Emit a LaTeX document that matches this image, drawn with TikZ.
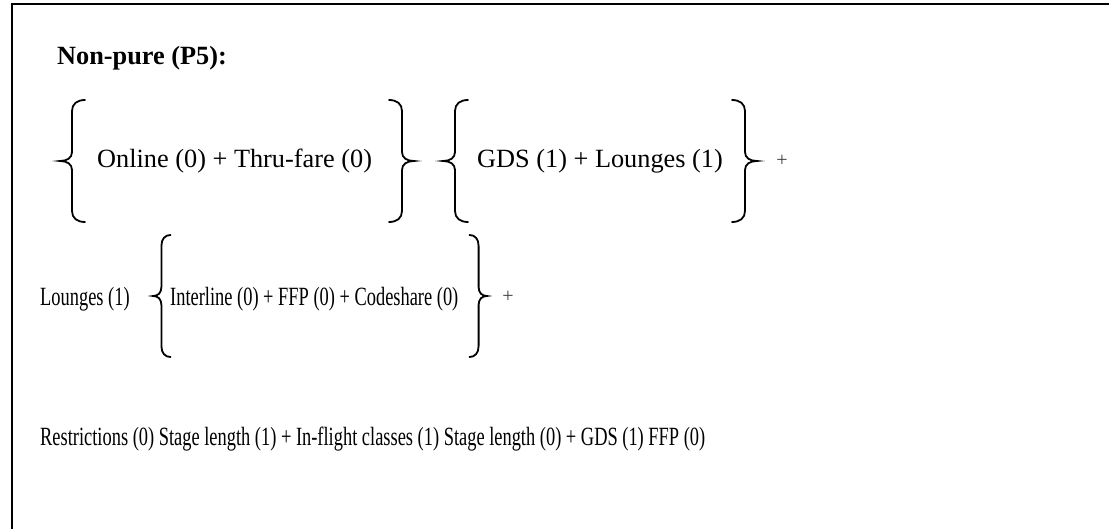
\documentclass[tikz,border=0pt]{standalone}
\usepackage{fontspec}
\setmainfont{Liberation Serif}
\newfontfamily\condfont[FakeStretch=0.7]{Liberation Serif}
\tikzset{
  bracestyle/.style={line width=1.8pt, line cap=round},
  lbrace/.pic={\draw[bracestyle] (25,-61) .. controls (17,-61) and (12,-57) .. (12,-50) -- (12,-9) .. controls (12,-3) and (7,0) .. (0,0) .. controls (7,0) and (12,3) .. (12,9) -- (12,50) .. controls (12,57) and (17,61) .. (25,61);},
  rbrace/.pic={\draw[bracestyle] (-25,-61) .. controls (-17,-61) and (-12,-57) .. (-12,-50) -- (-12,-9) .. controls (-12,-3) and (-7,0) .. (0,0) .. controls (-7,0) and (-12,3) .. (-12,9) -- (-12,50) .. controls (-12,57) and (-17,61) .. (-25,61);},
  txt/.style={anchor=base west, inner sep=0pt, font=\fontsize{26.3}{30}\selectfont},
  ctxt/.style={anchor=base west, inner sep=0pt, font=\fontsize{26.3}{30}\condfont},
  plus/.style={inner sep=0pt, text=black!75, font=\fontsize{20}{22}\selectfont}
}
\begin{document}
\begin{tikzpicture}[x=1pt,y=-1pt]
\useasboundingbox (0,0) rectangle (1109,529);
\clip (0,0) rectangle (1109,529);
\fill[white] (0,0) rectangle (1109,529);
% frame
\draw[line width=2pt] (12,540) -- (12,4) -- (1120,4);
% title
\node[txt, font=\fontsize{26.3}{30}\selectfont\bfseries] (title) at (57,65) {Non-pure (P5):};
% row 1
\pic at (60,161) {lbrace};
\node[txt] (online) at (97,168) {Online (0) + Thru-fare (0)};
\pic at (414,161) {rbrace};
\pic at (443,161) {lbrace};
\node[txt] (gds) at (477,168) {GDS (1) + Lounges (1)};
\pic at (757,161) {rbrace};
\node[plus] (plus1) at (782,161) {+};
% row 2
\node[ctxt] (lounges) at (40,306) {Lounges (1)};
\pic[xscale=0.7] at (153,296) {lbrace};
\node[ctxt] (interline) at (170,306) {Interline (0) + FFP (0) + Codeshare (0)};
\pic[xscale=0.7] at (487,296) {rbrace};
\node[plus] (plus2) at (508,297) {+};
% row 3
\node[ctxt] (restr) at (40,445) {Restrictions (0) Stage length (1) + In-flight classes (1) Stage length (0) + GDS (1) FFP (0)};
\end{tikzpicture}
\end{document}
